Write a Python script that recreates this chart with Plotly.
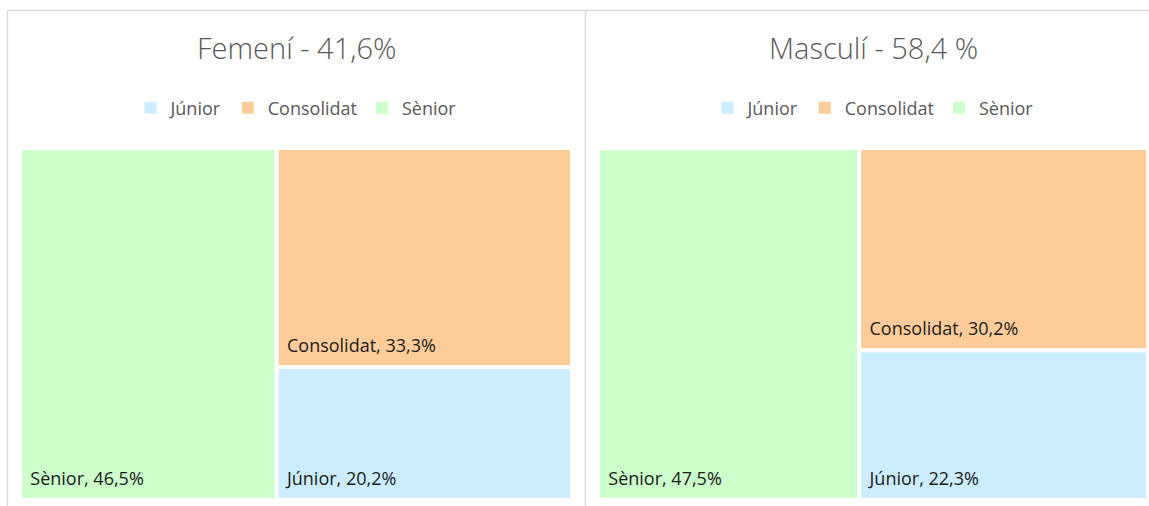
import plotly.graph_objects as go

# ---- data ----
categories = ["Júnior", "Consolidat", "Sènior"]
fem_values = [20.2, 33.3, 46.5]
masc_values = [22.3, 30.2, 47.5]
panel_titles = ["Femení - 41,6%", "Masculí - 58,4 %"]
colors = ["#CCECFF", "#FFCC99", "#CCFFCC"]

W, H = 1149, 506


def px_x(v):
    return v / W


def px_y(v):
    return 1 - v / H


def fmt(v):
    return f"{v:.1f}".replace(".", ",")


fig = go.Figure()

panels = [
    dict(values=fem_values, title=panel_titles[0], x0=20, x1=572, legend="legend"),
    dict(values=masc_values, title=panel_titles[1], x0=598, x1=1148, legend="legend2"),
]

label_tpl = ("<span style='font-size:14px'>\u00a0\u00a0</span>%{label}, %{customdata}%"
             "<span style='font-size:40px'>\u00a0</span>")

for p in panels:
    fig.add_trace(go.Treemap(
        labels=categories,
        parents=[""] * len(categories),
        values=p["values"],
        customdata=[fmt(v) for v in p["values"]],
        texttemplate=label_tpl,
        hovertemplate="%{label}, %{customdata}%<extra></extra>",
        textposition="bottom left",
        textfont=dict(family="Open Sans", size=18, color="#1a1a1a"),
        marker=dict(colors=colors, line=dict(color="white", width=4),
                    pad=dict(t=0, l=0, r=0, b=0)),
        sort=True,
        tiling=dict(packing="squarify", pad=0),
        pathbar=dict(visible=False),
        root_color="white",
        domain=dict(x=[px_x(p["x0"]), px_x(p["x1"])], y=[px_y(500), px_y(148)]),
    ))
    for cat, col in zip(categories, colors):
        fig.add_trace(go.Scatter(
            x=[None], y=[None], mode="markers", name=cat,
            marker=dict(symbol="square", size=12, color=col),
            legend=p["legend"], showlegend=True, hoverinfo="skip",
        ))

legend_common = dict(
    orientation="h", yanchor="middle", y=px_y(108), xanchor="center",
    font=dict(family="Open Sans", size=18, color="#595959"),
    bgcolor="rgba(0,0,0,0)", itemclick=False, itemdoubleclick=False,
)

annotations = [
    dict(text=panel_titles[0], x=px_x(296), y=px_y(47), xref="paper", yref="paper",
         showarrow=False, xanchor="center", yanchor="middle",
         font=dict(family="Open Sans", size=29, color="#595959", weight=300)),
    dict(text=panel_titles[1], x=px_x(873), y=px_y(47), xref="paper", yref="paper",
         showarrow=False, xanchor="center", yanchor="middle",
         font=dict(family="Open Sans", size=29, color="#595959", weight=300)),
]

line_style = dict(color="#D9D9D9", width=1.5)
shapes = [
    dict(type="line", xref="paper", yref="paper", x0=px_x(7.5), x1=1, y0=px_y(10.5), y1=px_y(10.5), line=line_style),
    dict(type="line", xref="paper", yref="paper", x0=px_x(7.5), x1=px_x(7.5), y0=px_y(10.5), y1=0, line=line_style),
    dict(type="line", xref="paper", yref="paper", x0=px_x(585.5), x1=px_x(585.5), y0=px_y(10.5), y1=0, line=line_style),
]

fig.update_layout(
    width=W, height=H,
    margin=dict(l=0, r=0, t=0, b=0),
    paper_bgcolor="white", plot_bgcolor="white",
    xaxis=dict(visible=False), yaxis=dict(visible=False),
    legend=dict(legend_common, x=px_x(296)),
    legend2=dict(legend_common, x=px_x(873)),
    annotations=annotations,
    shapes=shapes,
    showlegend=True,
)

fig.write_html("out.html", config={"displayModeBar": False},
               post_script="document.body.style.margin='0';")
